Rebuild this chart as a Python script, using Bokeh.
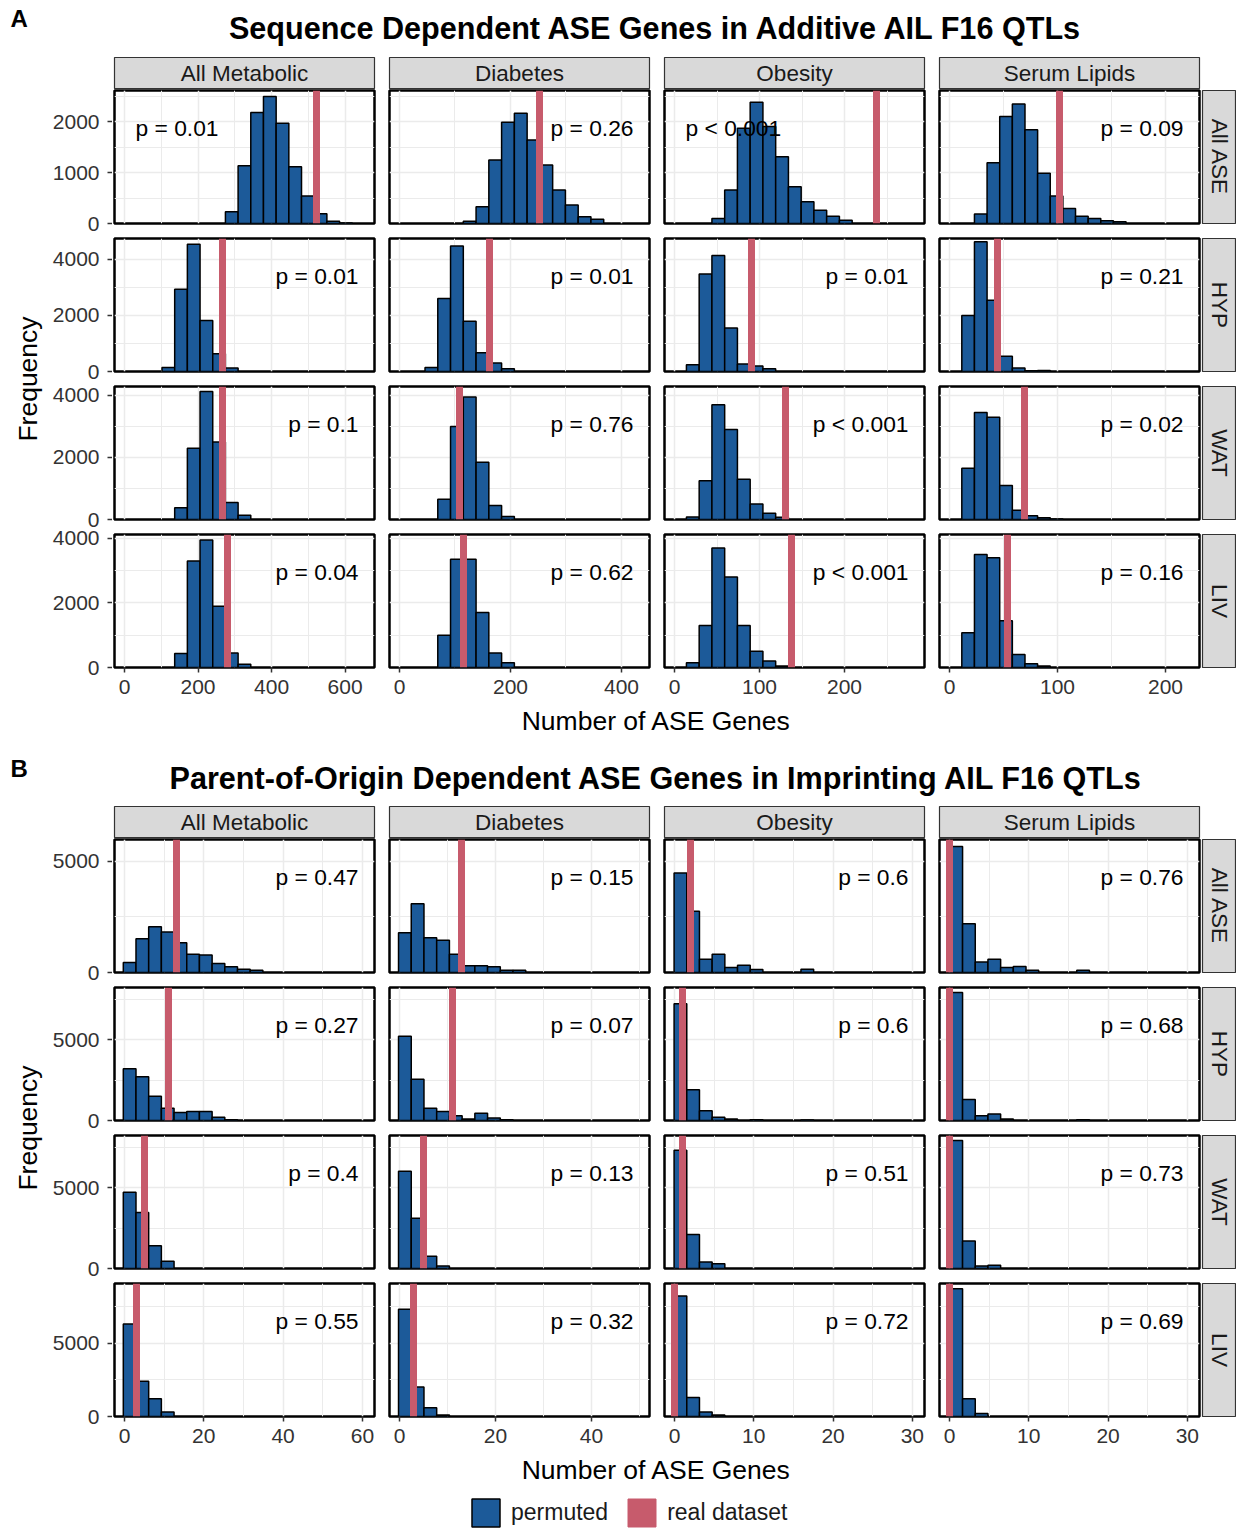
import math
from bokeh.plotting import figure
from bokeh.layouts import column, row
from bokeh.models import Range1d, FixedTicker, Label, Legend, LegendItem, LinearAxis
from bokeh.embed import file_html
from bokeh.resources import INLINE
from bokeh.core.properties import value

# ---------------- data ----------------
COL_NAMES = ["All Metabolic", "Diabetes", "Obesity", "Serum Lipids"]
ROW_NAMES = ["All ASE", "HYP", "WAT", "LIV"]

TITLE_A = "Sequence Dependent ASE Genes in Additive AIL F16 QTLs"
TITLE_B = "Parent-of-Origin Dependent ASE Genes in Imprinting AIL F16 QTLs"
X_TITLE = "Number of ASE Genes"
Y_TITLE = "Frequency"

# Section A: permutation histograms (counts per bin), first-bin left edge, bin width per column
A_BINWIDTH = [34.5, 23.0, 15.0, 11.7]
A_ALL_ASE_COUNTS = [
    [230, 1134, 2177, 2492, 1967, 1115, 538, 190, 46, 10],
    [46, 328, 1246, 1987, 2164, 1639, 1148, 656, 361, 131, 85],
    [98, 656, 1869, 2380, 1902, 1311, 721, 426, 262, 144, 66],
    [184, 1193, 2098, 2341, 1836, 984, 538, 295, 144, 98, 52, 33],
]
A_HYP_COUNTS = [
    [145, 2928, 4537, 1815, 629, 121],
    [145, 2600, 4477, 1790, 665, 302, 97],
    [242, 3473, 4138, 1549, 266, 200, 100],
    [1997, 4622, 2541, 545, 121, 24, 36],
]
A_WAT_COUNTS = [
    [380, 2300, 4130, 2500, 550, 140],
    [650, 3000, 3950, 1850, 450, 100],
    [80, 1250, 3700, 2900, 1300, 500, 200, 70],
    [1650, 3450, 3300, 1100, 300, 120, 60, 20],
]
A_LIV_COUNTS = [
    [430, 3300, 3950, 1900, 450, 100],
    [1000, 3350, 3350, 1700, 450, 150],
    [150, 1300, 3700, 2800, 1300, 500, 200, 50],
    [1080, 3500, 3400, 1450, 400, 120, 50],
]
A_ALL_ASE_START = [274.5, 115, 44, 23.1]
A_HYP_START = [102, 46, 14, 11.4]
A_WAT_START = [136.5, 69, 14, 11.4]
A_LIV_START = [136.5, 69, 14, 11.4]
A_REAL = [[522, 252, 238, 102], [267, 163, 91, 44], [267, 108, 131, 69], [280, 115, 138, 54]]
A_PVAL = [
    ["p = 0.01", "p = 0.26", "p < 0.001", "p = 0.09"],
    ["p = 0.01", "p = 0.01", "p = 0.01", "p = 0.21"],
    ["p = 0.1", "p = 0.76", "p < 0.001", "p = 0.02"],
    ["p = 0.04", "p = 0.62", "p < 0.001", "p = 0.16"],
]
A_PVAL_LEFT = [[True, False, True, False], [False] * 4, [False] * 4, [False] * 4]
A_XRANGE = [(-27.2, 680.0), (-18.0, 450.5), (-11.8, 294.1), (-9.26, 231.5)]
A_XTICKS = [[0, 200, 400, 600], [0, 200, 400], [0, 100, 200], [0, 100, 200]]
A_XMINOR = [[100, 300, 500], [100, 300], [50, 150, 250], [50, 150]]
A_YMAX = [2608, 4740, 4290, 4120]
A_YTICKS = [[0, 1000, 2000], [0, 2000, 4000], [0, 2000, 4000], [0, 2000, 4000]]
A_YMINOR = [[500, 1500, 2500], [1000, 3000], [1000, 3000], [1000, 3000]]

# Section B
B_BINWIDTH = [3.2, 2.65, 1.6, 1.6]
B_ALL_ASE_COUNTS = [
    [448, 1523, 2060, 1821, 1344, 821, 791, 403, 254, 149, 104],
    [1792, 3091, 1568, 1448, 821, 299, 299, 254, 104, 104],
    [4479, 2762, 597, 821, 224, 328, 134, 0, 0, 0, 149],
    [5673, 2195, 478, 597, 224, 269, 104, 0, 0, 0, 104],
]
B_HYP_COUNTS = [
    [3200, 2700, 1500, 750, 500, 550, 550, 200, 50],
    [5200, 2550, 750, 550, 300, 100, 450, 150, 50],
    [7200, 1900, 600, 200, 100, 0, 50, 0, 0, 0, 30],
    [7900, 1300, 300, 400, 100, 0, 0, 0, 0, 0, 50],
]
B_WAT_COUNTS = [
    [4700, 3450, 1400, 450],
    [6000, 3100, 750, 150],
    [7300, 2100, 400, 300],
    [7900, 1700, 150, 200],
]
B_LIV_COUNTS = [
    [6300, 2400, 1200, 300],
    [7300, 2000, 600, 100],
    [8200, 1300, 300, 100],
    [8700, 1200, 200],
]
B_START = [-0.3, -0.2, -0.05, 0.05]
B_REAL = [[13, 13, 2, 0], [11, 11, 1, 0], [5, 5, 1, 0], [3, 3, 0, 0]]
B_PVAL = [
    ["p = 0.47", "p = 0.15", "p = 0.6", "p = 0.76"],
    ["p = 0.27", "p = 0.07", "p = 0.6", "p = 0.68"],
    ["p = 0.4", "p = 0.13", "p = 0.51", "p = 0.73"],
    ["p = 0.55", "p = 0.32", "p = 0.72", "p = 0.69"],
]
B_PVAL_LEFT = [[False] * 4] * 4
B_XRANGE = [(-2.52, 63.05), (-2.08, 52.08), (-1.26, 31.53), (-1.26, 31.53)]
B_XTICKS = [[0, 20, 40, 60], [0, 20, 40], [0, 10, 20, 30], [0, 10, 20, 30]]
B_XMINOR = [[10, 30, 50], [10, 30, 50], [5, 15, 25], [5, 15, 25]]
B_YMAX = [5990, 8210, 8210, 9050]
B_YTICKS = [[0, 5000]] * 4
B_YMINOR = [[2500, 7500]] * 4

LEGEND_LABELS = ["permuted", "real dataset"]

# ---------------- style / layout ----------------
FONT = "Liberation Sans"
BLUE = "#1C5A99"
RED = "#C75B6C"
GRID = "#EBEBEB"
STRIP_FILL = "#D9D9D9"
FRAME_W, FRAME_H = 260, 133
TOTAL_W = 1236
LEFT_W = 112
ROW_STEP = 148
STRIP_H = 33
BOTTOM_AXIS = 37
BODY_H = STRIP_H + 3 * ROW_STEP + 1 + FRAME_H + BOTTOM_AXIS

SECTION_A = dict(binwidth=A_BINWIDTH,
                 counts=[A_ALL_ASE_COUNTS, A_HYP_COUNTS, A_WAT_COUNTS, A_LIV_COUNTS],
                 start=[A_ALL_ASE_START, A_HYP_START, A_WAT_START, A_LIV_START],
                 real=A_REAL, pval=A_PVAL, pleft=A_PVAL_LEFT, xrange=A_XRANGE,
                 xticks=A_XTICKS, xminor=A_XMINOR, ymax=A_YMAX, yticks=A_YTICKS, yminor=A_YMINOR)
SECTION_B = dict(binwidth=B_BINWIDTH,
                 counts=[B_ALL_ASE_COUNTS, B_HYP_COUNTS, B_WAT_COUNTS, B_LIV_COUNTS],
                 start=[B_START] * 4,
                 real=B_REAL, pval=B_PVAL, pleft=B_PVAL_LEFT, xrange=B_XRANGE,
                 xticks=B_XTICKS, xminor=B_XMINOR, ymax=B_YMAX, yticks=B_YTICKS, yminor=B_YMINOR)


def style_axis(ax, ticks, standoff):
    ax.ticker = FixedTicker(ticks=ticks)
    ax.axis_line_color = None
    ax.minor_tick_line_color = None
    ax.major_tick_in = 0
    ax.major_tick_out = 5
    ax.major_tick_line_color = "#333333"
    ax.major_tick_line_width = 1.5
    ax.major_label_standoff = standoff
    ax.major_label_text_font = FONT
    ax.major_label_text_font_size = "21px"
    ax.major_label_text_color = "#333333"


def panel(S, r, c):
    xs, xe = S["xrange"][c]
    ymax = S["ymax"][r]
    bottom = (r == 3)
    p = figure(frame_width=FRAME_W, frame_height=FRAME_H,
               x_range=Range1d(xs, xe), y_range=Range1d(0, ymax),
               x_axis_location="below" if bottom else None,
               y_axis_location=None,
               min_border_left=2,
               min_border_right=2 if c == 3 else 13,
               min_border_top=1, min_border_bottom=BOTTOM_AXIS if bottom else 14,
               toolbar_location=None, output_backend="svg", title=None)
    p.outline_line_color = "black"
    p.outline_line_width = 2.5
    p.xgrid.ticker = FixedTicker(ticks=S["xticks"][c], minor_ticks=S["xminor"][c])
    p.ygrid.ticker = FixedTicker(ticks=S["yticks"][r], minor_ticks=S["yminor"][r])
    p.grid.grid_line_color = GRID
    p.grid.grid_line_width = 1.5
    p.grid.minor_grid_line_color = GRID
    p.grid.minor_grid_line_width = 1.0
    if bottom:
        style_axis(p.xaxis[0], S["xticks"][c], 7)

    counts = S["counts"][r][c]
    start = S["start"][r][c]
    bw = S["binwidth"][c]
    lefts, rights, tops = [], [], []
    for i, n in enumerate(counts):
        if n > 0:
            lefts.append(start + i * bw)
            rights.append(start + (i + 1) * bw)
            tops.append(n)
    p.quad(left=lefts, right=rights, top=tops, bottom=0,
           fill_color=BLUE, line_color="black", line_width=1.5)
    p.vspan(x=[S["real"][r][c]], line_color=RED, line_width=7)

    span = xe - xs
    if S["pleft"][r][c]:
        tx, align = xs + 21 * span / FRAME_W, "left"
    else:
        tx, align = xe - 16 * span / FRAME_W, "right"
    ty = ymax * (1 - 37 / FRAME_H)
    p.text(x=[tx], y=[ty], text=[S["pval"][r][c]], text_font=value(FONT),
           text_font_size="22.8px", text_align=align, text_baseline="middle",
           text_color="black")
    return p


def strip_fig(txt, fw, fh, left, right, top, bottom, vertical):
    p = figure(frame_width=fw, frame_height=fh, x_range=Range1d(0, 1), y_range=Range1d(0, 1),
               min_border_left=left, min_border_right=right,
               min_border_top=top, min_border_bottom=bottom,
               x_axis_location=None, y_axis_location=None,
               toolbar_location=None, output_backend="svg", title=None)
    p.grid.visible = False
    p.background_fill_color = STRIP_FILL
    p.outline_line_color = "#333333"
    p.outline_line_width = 1.2
    p.add_layout(Label(x=0.5, y=0.5, text=txt, text_font=FONT, text_font_size="22.5px",
                       text_color="#1A1A1A", text_align="center", text_baseline="middle",
                       angle=-math.pi / 2 if vertical else 0))
    return p


def text_fig(w, h, items):
    p = figure(width=w, height=h, x_range=Range1d(0, w), y_range=Range1d(0, h), min_border=0,
               x_axis_location=None, y_axis_location=None,
               toolbar_location=None, output_backend="svg", title=None)
    p.grid.visible = False
    p.outline_line_color = None
    for (x, ytop, txt, size, style, align, angle) in items:
        p.add_layout(Label(x=x, y=h - ytop, text=txt, text_font=FONT,
                           text_font_size=f"{size}px", text_font_style=style,
                           text_align=align, text_baseline="middle", angle=angle,
                           text_color="black"))
    return p


def left_fig(S):
    """Tall figure holding the shared 'Frequency' title and one y axis per facet row."""
    H, W = BODY_H, LEFT_W
    p = text_fig(W, H, [(27, STRIP_H + 1 + (3 * ROW_STEP + FRAME_H) / 2, Y_TITLE, 26.5,
                         "normal", "center", math.pi / 2)])
    for r in range(4):
        top = STRIP_H + 1 + ROW_STEP * r
        bot = top + FRAME_H
        k = FRAME_H / S["ymax"][r]
        s = -(H - bot) / k
        name = f"row{r}"
        p.extra_y_ranges[name] = Range1d(s, s + H / k)
        ax = LinearAxis(y_range_name=name, fixed_location=W)
        style_axis(ax, S["yticks"][r], 8)
        p.add_layout(ax, "left")
    return p


def section_body(S):
    strips = []
    for c, name in enumerate(COL_NAMES):
        strips.append(strip_fig(name, FRAME_W, 32, 2, 2 if c == 3 else 13, 1, 0, False))
    rows = [row(*strips)]
    for r in range(4):
        figs = [panel(S, r, c) for c in range(4)]
        figs.append(strip_fig(ROW_NAMES[r], 33, FRAME_H, 1, 1, 1,
                              BOTTOM_AXIS if r == 3 else 14, True))
        rows.append(row(*figs))
    return row(left_fig(S), column(*rows))


header_a = text_fig(TOTAL_W, 56, [(10, 18, "A", 24, "bold", "left", 0),
                                  (656, 27, TITLE_A, 30.6, "bold", "center", 0)])
xtitle_a = text_fig(TOTAL_W, 34, [(656, 16, X_TITLE, 26.5, "normal", "center", 0)])
header_b = text_fig(TOTAL_W, 67, [(10, 30, "B", 24, "bold", "left", 0),
                                  (656, 39, TITLE_B, 30.6, "bold", "center", 0)])
xtitle_b = text_fig(TOTAL_W, 32, [(656, 16, X_TITLE, 26.5, "normal", "center", 0)])

# legend
lp = figure(width=TOTAL_W, height=43, x_range=Range1d(0, 1), y_range=Range1d(0, 1), min_border=0,
            x_axis_location=None, y_axis_location=None,
            toolbar_location=None, output_backend="svg", title=None)
lp.grid.visible = False
lp.outline_line_color = None
nan = float("nan")
r_perm = lp.quad(left=[nan], right=[nan], top=[nan], bottom=[nan], fill_color=BLUE,
                 line_color="black", line_width=1.5)
r_real = lp.quad(left=[nan], right=[nan], top=[nan], bottom=[nan], fill_color=RED,
                 line_color=RED, line_width=1.0)
legend = Legend(items=[LegendItem(label=LEGEND_LABELS[0], renderers=[r_perm]),
                       LegendItem(label=LEGEND_LABELS[1], renderers=[r_real])],
                orientation="horizontal", location=(468, -2),
                glyph_width=35, glyph_height=35, label_standoff=8, spacing=16,
                padding=0, margin=0, border_line_color=None, background_fill_alpha=0,
                label_text_font=FONT, label_text_font_size="23px", label_text_color="#1A1A1A")
lp.add_layout(legend)

layout = column(header_a, section_body(SECTION_A), xtitle_a,
                header_b, section_body(SECTION_B), xtitle_b, lp)

open("out.html", "w").write(file_html(layout, INLINE))
